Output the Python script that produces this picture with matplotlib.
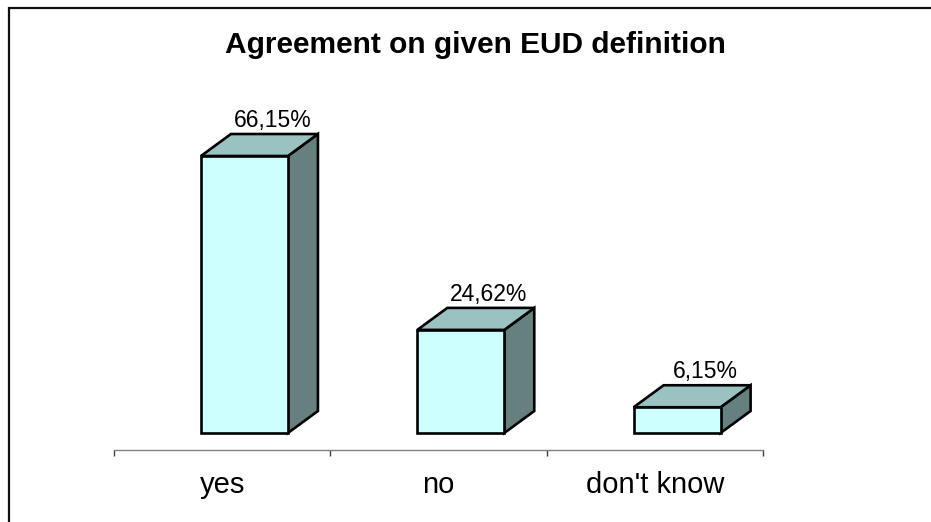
import numpy as np
import matplotlib.pyplot as plt
from matplotlib.patches import Polygon, Rectangle

plt.rcParams['font.family'] = ['Liberation Sans', 'DejaVu Sans']

categories = ['yes', 'no', "don't know"]
shares = [66.15, 24.62, 6.15]
share_labels = ['66,15%', '24,62%', '6,15%']

front_col = '#CCFFFF'
top_col = '#99C2C0'
side_col = '#668080'

fig = plt.figure(figsize=(9.31, 5.22), dpi=100)
ax = fig.add_axes([114 / 931, 72 / 522, 649 / 931, 352 / 522])
ax.set_xlim(-0.5, 2.5)
ax.set_ylim(-4.06, 80)

# fake 3d: front face, top face and right side
w = 0.402
shift = -0.098
dx = 0.1387
dy = 5.254
for i, v in enumerate(shares):
    x0 = i + shift
    x1 = x0 + w
    front = Polygon([(x0, 0), (x1, 0), (x1, v), (x0, v)], closed=True,
                    facecolor=front_col, edgecolor='black', lw=1.9, clip_on=False)
    top = Polygon([(x0, v), (x1, v), (x1 + dx, v + dy), (x0 + dx, v + dy)], closed=True,
                  facecolor=top_col, edgecolor='black', lw=1.9, clip_on=False)
    side = Polygon([(x1, 0), (x1 + dx, dy), (x1 + dx, v + dy), (x1, v)], closed=True,
                   facecolor=side_col, edgecolor='black', lw=1.9, clip_on=False)
    for p in (side, top, front):
        ax.add_patch(p)
    ax.annotate(share_labels[i], (x0 + w / 2 + dx - 0.01, v + dy), xytext=(0, 7),
                textcoords='offset pixels', ha='center', va='baseline', fontsize=16.5)

for s in ['top', 'right', 'left']:
    ax.spines[s].set_visible(False)
ax.spines['bottom'].set_color('#808080')
ax.spines['bottom'].set_linewidth(1.0)
ax.set_yticks([])
ax.set_xticks([-0.5, 0.5, 1.5, 2.5])
ax.set_xticklabels([])
ax.tick_params(axis='x', which='major', direction='out', length=4.5, width=1.0, color='#404040')
ax.set_xticks(np.arange(len(categories)), minor=True)
ax.set_xticklabels(categories, minor=True, fontsize=21)
ax.tick_params(axis='x', which='minor', length=0, pad=15)

fig.text(475 / 931, 469 / 522, 'Agreement on given EUD definition', ha='center', va='baseline',
         fontsize=21.5, fontweight='bold')

# chart area frame, only top and left edges fall inside the image
fig.patches.append(Rectangle((8.5 / 931, -0.1), 1.2, 0.1 + 1 - 7.5 / 522, transform=fig.transFigure,
                             fill=False, edgecolor='#111111', lw=1.6))

fig.savefig('out.png', dpi=100)
